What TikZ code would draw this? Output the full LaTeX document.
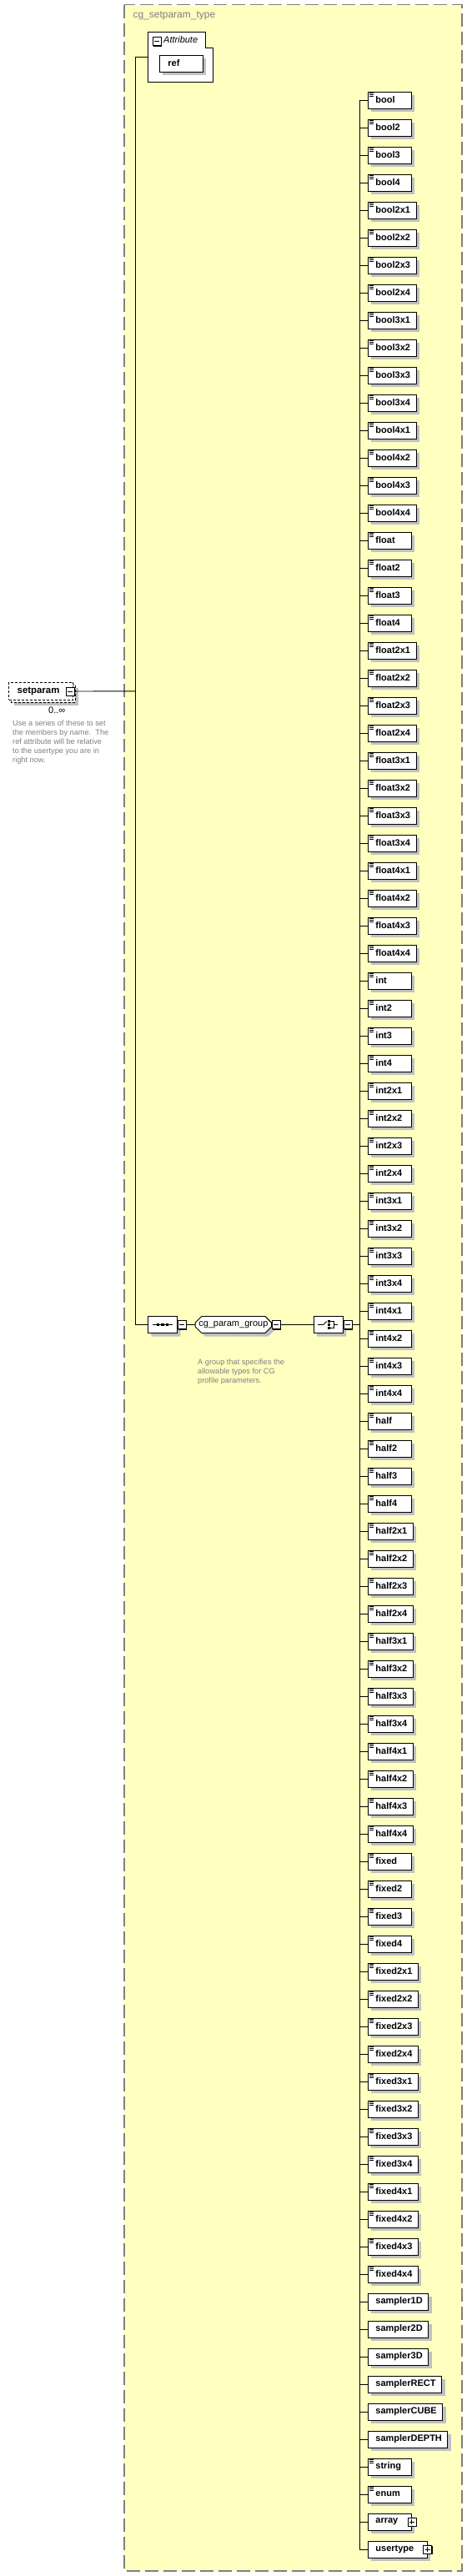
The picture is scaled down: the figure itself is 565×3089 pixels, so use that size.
\documentclass[tikz,border=0pt]{standalone}
\usepackage{fontspec}
\setmainfont{Liberation Sans}
\usetikzlibrary{positioning,shapes.misc,shadows}
\definecolor{typebg}{RGB}{255,255,192}
\definecolor{shadowgray}{RGB}{192,192,192}
\definecolor{notegray}{RGB}{128,128,128}
\tikzset{
    typeframe/.style={
        draw=notegray,
        line width=1.3pt,
        dash pattern=on 16pt off 6pt,
        fill=typebg
    },
    elbox/.style={
        draw,
        fill=white,
        line width=0.9pt,
        anchor=west,
        inner xsep=0pt,
        inner ysep=0pt,
        minimum height=20pt,
        font=\bfseries\fontsize{11}{13}\selectfont,
        general shadow={fill=shadowgray, shadow xshift=4pt, shadow yshift=-4pt}
    },
    docel/.style={
        elbox,
        path picture={
            \foreach \k in {1.8,3.4,5}
                \draw[line width=0.7pt] ([xshift=2pt,yshift=-\k pt]path picture bounding box.north west) -- ++(5pt,0);
        }
    },
    comp/.style={
        draw,
        fill=white,
        line width=0.9pt,
        chamfered rectangle,
        chamfered rectangle xsep=5pt,
        chamfered rectangle angle=45,
        minimum height=20pt,
        inner sep=0pt,
        anchor=west,
        font=\fontsize{11}{13}\selectfont,
        general shadow={fill=shadowgray, shadow xshift=4pt, shadow yshift=-4pt}
    },
    minbox/.style={
        draw,
        fill=white,
        line width=0.8pt,
        minimum size=10pt,
        inner sep=0pt,
        general shadow={fill=black, shadow xshift=1pt, shadow yshift=-1pt},
        path picture={
            \draw[line width=0.9pt] ([xshift=2pt]path picture bounding box.west) -- ([xshift=-2pt]path picture bounding box.east);
        }
    },
    plusbox/.style={
        minbox,
        path picture={
            \draw[line width=0.9pt] ([xshift=2pt]path picture bounding box.west) -- ([xshift=-2pt]path picture bounding box.east);
            \draw[line width=0.9pt] ([yshift=-2pt]path picture bounding box.north) -- ([yshift=2pt]path picture bounding box.south);
        }
    },
    note/.style={
        anchor=north west,
        align=left,
        inner sep=0pt,
        text=notegray,
        font=\fontsize{9.2}{11}\selectfont
    },
    link/.style={line width=0.9pt}
}
% box at least 36pt wide, text on the left
\newcommand{\elname}[1]{\setbox0\hbox{#1}\ifdim\wd0<36pt \wd0=36pt\fi\box0}

\begin{document}
\begin{tikzpicture}[x=1pt,y=1pt]
    \useasboundingbox (0,0) rectangle (565,-3089);

    % complex type frame
    \draw[typeframe] (149,-5.5) rectangle (554,-3083);
    \node[anchor=west, text=notegray, font=\fontsize{12}{14}\selectfont] (title) at (156,-19) {cg\_setparam\_type};

    % attributes
    \draw[fill=white, line width=0.9pt] (177,-38) -- (246,-38) -- (246,-57) -- (255,-57) -- (255,-98) -- (177,-98) -- cycle;
    \node[minbox] (attrmin) at (188,-49.5) {};
    \node[anchor=west, inner sep=0pt, font=\itshape\fontsize{11}{13}\selectfont] (attrlbl) at (196,-48) {Attribute};
    \node[elbox] (ref) at (191,-76) {\hspace*{10pt}\elname{ref}\hspace*{6pt}};
    \coordinate (attrin) at (177,-68);

    % setparam element
    \fill[shadowgray] (17,-825) rectangle (94,-846);
    \draw[fill=white, line width=0.8pt, dash pattern=on 3pt off 2pt] (13.3,-821.3) rectangle (90.3,-842.3);
    \node[draw, fill=white, line width=0.8pt, dash pattern=on 3pt off 2pt, anchor=west, inner sep=0pt,
          minimum height=21pt, font=\bfseries\fontsize{11.4}{13}\selectfont] (setparam) at (10.3,-828.8)
          {\hspace*{10pt}\makebox[67pt][l]{setparam}};
    \node[minbox] (spmin) at (84,-829) {};
    \node[anchor=west, inner sep=0pt, font=\fontsize{11}{13}\selectfont] (spocc) at (58,-852) {0..∞};
    \node[note] (spnote) at (15,-863.5) {Use a series of these to set\\the members by name.\ \ The\\ref attribute will be relative\\to the usertype you are in\\right now.};
    \coordinate (jn) at (162,-828.8);

    % sequence, group, choice
    \node[comp, minimum width=35pt] (seq) at (177,-1588.5) {};
    \node[minbox, right=0pt of seq] (seqmin) {};
    \node[comp, minimum width=91pt, right=10pt of seqmin] (grp) {cg\_param\_group};
    \node[minbox, right=0pt of grp] (grpmin) {};
    \node[comp, minimum width=35pt, right=39pt of grpmin] (chc) {};
    \node[minbox, right=0pt of chc] (chcmin) {};
    \node[note] (grpnote) at (237,-1629.5) {A group that specifies the\\allowable types for CG\\profile parameters.};

    \begin{scope}[shift={(seq.center)}]
        \draw[line width=0.9pt] (-12,0) -- (12,0);
        \foreach \dx in {-5.5,0,5.5}
            \fill (\dx-1.6,-1.6) rectangle (\dx+1.6,1.6);
    \end{scope}
    \begin{scope}[shift={(chc.center)}]
        \draw[line width=0.9pt] (-12.5,0) -- (-6,0) -- (-2,4);
        \foreach \dy in {-4,0,4}
            \fill (-0.8,\dy-1.3) rectangle (1.8,\dy+1.3);
        \draw[line width=0.9pt] (2.5,4) -- (7,4) -- (7,-4) -- (2.5,-4) (7,0) -- (11,0);
    \end{scope}

    \draw[link] (spmin.east) -- (jn);
    \draw[link] (jn) |- (attrin);
    \draw[link] (jn) |- (seq.west);
    \draw[link] (seqmin.east) -- (grp.west);
    \draw[link] (grpmin.east) -- (chc.west);

    % choice members
    \foreach \n [count=\i from 0] in {bool,bool2,bool3,bool4,bool2x1,bool2x2,bool2x3,bool2x4,bool3x1,bool3x2,bool3x3,bool3x4,bool4x1,bool4x2,bool4x3,bool4x4,
        float,float2,float3,float4,float2x1,float2x2,float2x3,float2x4,float3x1,float3x2,float3x3,float3x4,float4x1,float4x2,float4x3,float4x4,
        int,int2,int3,int4,int2x1,int2x2,int2x3,int2x4,int3x1,int3x2,int3x3,int3x4,int4x1,int4x2,int4x3,int4x4,
        half,half2,half3,half4,half2x1,half2x2,half2x3,half2x4,half3x1,half3x2,half3x3,half3x4,half4x1,half4x2,half4x3,half4x4,
        fixed,fixed2,fixed3,fixed4,fixed2x1,fixed2x2,fixed2x3,fixed2x4,fixed3x1,fixed3x2,fixed3x3,fixed3x4,fixed4x1,fixed4x2,fixed4x3,fixed4x4} {
        \node[docel] (\n) at (441,{-120-33*\i}) {\hspace*{9pt}\elname{\n}\hspace*{7pt}};
        \draw[link] (chcmin.east) -- ++(8.5,0) |- (\n.west);
    }
    \foreach \n [count=\i from 80] in {sampler1D,sampler2D,sampler3D,samplerRECT,samplerCUBE,samplerDEPTH} {
        \node[elbox] (\n) at (441,{-120-33*\i}) {\hspace*{9pt}\elname{\n}\hspace*{7pt}};
        \draw[link] (chcmin.east) -- ++(8.5,0) |- (\n.west);
    }
    \foreach \n [count=\i from 86] in {string,enum} {
        \node[docel] (\n) at (441,{-120-33*\i}) {\hspace*{9pt}\elname{\n}\hspace*{7pt}};
        \draw[link] (chcmin.east) -- ++(8.5,0) |- (\n.west);
    }
    \node[elbox] (array) at (441,-3024) {\hspace*{9pt}\elname{array}\hspace*{7pt}};
    \node[plusbox] (arrplus) at (array.east) {};
    \node[elbox] (usertype) at (441,-3057) {\hspace*{9pt}\elname{usertype}\hspace*{16pt}};
    \node[plusbox] (utplus) at (usertype.east) {};
    \draw[link] (chcmin.east) -- ++(8.5,0) |- (array.west);
    \draw[link] (chcmin.east) -- ++(8.5,0) |- (usertype.west);
\end{tikzpicture}
\end{document}
